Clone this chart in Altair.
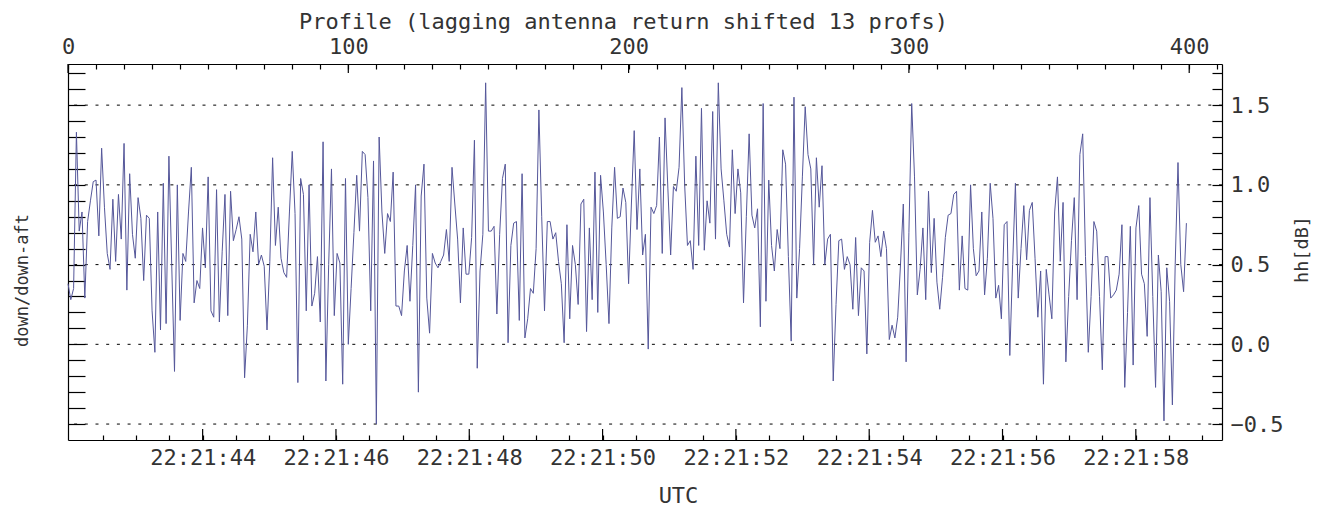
import altair as alt
import pandas as pd

# hh [dB] per profile (profile index 0..399)
hh_db = [
    0.38, 0.28, 0.35, 1.33, 0.71, 0.83, 0.29, 0.77, 0.90, 1.02,
    1.03, 0.68, 1.23, 0.86, 0.57, 0.47, 0.91, 0.52, 0.94, 0.66,
    1.26, 0.34, 1.07, 0.69, 0.54, 0.92, 0.79, 0.40, 0.81, 0.79,
    0.21, -0.05, 0.83, 0.09, 1.01, 0.13, 1.18, 0.50, -0.17, 1.00,
    0.15, 0.57, 0.52, 0.83, 1.11, 0.26, 0.40, 0.35, 0.73, 0.48,
    1.05, 0.21, 0.17, 0.97, 0.14, 0.58, 0.94, 0.18, 0.96, 0.65,
    0.72, 0.80, 0.66, -0.21, 0.12, 0.69, 0.58, 0.83, 0.50, 0.56,
    0.49, 0.09, 0.52, 1.17, 0.62, 0.86, 0.54, 0.45, 0.42, 0.83,
    1.21, 0.82, -0.24, 1.04, 0.94, 0.21, 1.00, 0.24, 0.32, 0.55,
    0.14, 1.27, -0.23, 0.50, 1.10, 0.18, 0.57, 0.51, -0.25, 1.04,
    0.00, 0.35, 0.70, 1.06, 0.71, 1.21, 1.19, 0.92, 0.21, 1.15,
    -0.50, 1.30, 0.83, 0.57, 0.82, 0.77, 1.08, 0.24, 0.24, 0.18,
    0.46, 0.62, 0.27, 0.62, 1.00, -0.30, 0.93, 1.13, 0.29, 0.07,
    0.57, 0.51, 0.48, 0.52, 0.56, 0.72, 0.52, 1.11, 0.88, 0.66,
    0.26, 0.73, 0.44, 0.44, 0.67, 1.28, -0.15, 0.46, 0.69, 1.64,
    0.71, 0.71, 0.74, 0.19, 0.69, 1.04, 1.13, 0.01, 0.62, 0.76,
    0.77, 0.15, 1.07, 0.04, 0.16, 0.35, 0.32, 0.60, 1.47, 0.80,
    0.21, 0.77, 0.77, 0.66, 0.70, 0.52, 0.38, 0.01, 0.75, 0.16,
    0.62, 0.50, 0.25, 0.88, 0.91, 0.08, 0.73, 0.28, 1.08, 0.20,
    1.06, 0.83, 0.50, 0.13, 0.73, 1.11, 0.79, 0.80, 0.98, 0.89,
    0.38, 0.88, 1.34, 0.72, 1.10, 0.56, 0.69, -0.03, 0.86, 0.82,
    0.87, 1.30, 0.57, 1.42, 0.98, 0.56, 0.99, 0.96, 1.11, 1.61,
    1.00, 0.62, 0.65, 0.47, 1.18, 0.62, 1.48, 0.59, 0.90, 0.76,
    1.46, 0.66, 1.64, 1.10, 0.90, 0.69, 0.61, 1.22, 0.82, 1.10,
    0.95, 0.26, 0.80, 1.32, 0.81, 0.73, 0.85, 0.11, 1.51, 0.27,
    1.03, 0.62, 0.46, 0.72, 0.60, 1.22, 1.13, 0.55, 0.02, 1.55,
    0.29, 0.60, 1.05, 1.49, 1.19, 1.10, 0.50, 1.17, 0.86, 1.12,
    0.50, 0.66, 0.69, -0.23, 0.25, 0.65, 0.66, 0.47, 0.55, 0.50,
    0.22, 0.67, 0.18, 0.48, 0.46, -0.06, 0.64, 0.84, 0.64, 0.68,
    0.55, 0.71, 0.60, 0.03, 0.12, 0.04, 0.17, 0.50, 0.88, -0.11,
    0.70, 1.51, 1.05, 0.31, 0.47, 0.73, 0.28, 0.96, 0.45, 0.79,
    0.39, 0.22, 0.42, 0.67, 0.81, 0.82, 0.94, 0.96, 0.34, 0.68,
    0.35, 0.34, 1.00, 0.60, 0.43, 0.46, 0.83, 0.31, 0.54, 1.01,
    0.79, 0.29, 0.37, 0.16, 0.75, 0.77, -0.07, 0.50, 1.01, 0.29,
    0.60, 0.87, 0.53, 0.84, 0.89, 0.54, 0.17, 0.46, -0.25, 0.47,
    0.31, 0.16, 0.83, 1.05, 0.52, 0.89, -0.11, 0.30, 0.65, 0.92,
    0.28, 1.19, 1.32, 0.55, -0.05, 0.30, 0.77, 0.71, 0.30, -0.16,
    0.55, 0.55, 0.29, 0.31, 0.34, 0.44, 0.75, -0.27, 0.20, 0.74,
    -0.13, 0.73, 0.87, 0.44, 0.38, 0.05, 0.92, 0.30, -0.27, 0.56,
    0.33, -0.48, 0.48, 0.27, -0.38, 0.50, 1.14, 0.50, 0.33, 0.76,
]

# time reference: seconds after 22:21:00 of profile 0, and profile rate
T0_SEC = 41.98
PROFILES_PER_SEC = 23.78

PROFILE_DOMAIN = [0, 411.7]
Y_DOMAIN = [-0.6, 1.758]
grid_levels = [-0.5, 0.0, 0.5, 1.0, 1.5]
profile_ticks = list(range(0, 411, 10))
profile_major = [0, 100, 200, 300, 400]
utc_ticks = [42.5 + 0.5 * i for i in range(34)]
utc_major = [44, 46, 48, 50, 52, 54, 56, 58]
db_ticks = [round(-0.5 + 0.1 * i, 1) for i in range(23)]

df = pd.DataFrame({"profile": list(range(len(hh_db))), "hh": hh_db})
df["sec"] = T0_SEC + df["profile"] / PROFILES_PER_SEC
grid_df = pd.DataFrame({"level": grid_levels})
pmaj_df = pd.DataFrame({"profile": profile_major})
umaj_df = pd.DataFrame({"sec": utc_major})

SEC_DOMAIN = [T0_SEC + PROFILE_DOMAIN[0] / PROFILES_PER_SEC,
              T0_SEC + PROFILE_DOMAIN[1] / PROFILES_PER_SEC]

FONT = "DejaVu Sans Mono"
TXT = "#333333"


def yscale():
    return alt.Scale(domain=Y_DOMAIN, nice=False, zero=False)


def pscale():
    return alt.Scale(domain=PROFILE_DOMAIN, nice=False, zero=False)


def sscale():
    return alt.Scale(domain=SEC_DOMAIN, nice=False, zero=False)


grid = alt.Chart(grid_df).mark_rule(
    color="#000000", strokeWidth=1, strokeDash=[3, 7.7]
).encode(y=alt.Y("level:Q", scale=yscale(), axis=None))

# longer major ticks (inward) on top and bottom axes
top_major = alt.Chart(pmaj_df).mark_rule(color="#000000", strokeWidth=1.2).encode(
    x=alt.X("profile:Q", scale=pscale(), axis=None),
    y=alt.value(0),
    y2=alt.value(9),
)
bottom_major = alt.Chart(umaj_df).mark_rule(color="#000000", strokeWidth=1.2).encode(
    x=alt.X("sec:Q", scale=sscale(), axis=None),
    y=alt.value({"expr": "height"}),
    y2=alt.value({"expr": "height - 11"}),
)

line = alt.Chart(df).mark_line(color="#55579a", strokeWidth=1).encode(
    x=alt.X(
        "profile:Q",
        scale=pscale(),
        axis=alt.Axis(
            orient="top",
            values=profile_ticks,
            labelExpr="datum.value % 100 === 0 ? datum.label : ''",
            tickSize=alt.ExprRef(expr="-5"),
            labelPadding=11,
            labelFlush=False,
            labelOverlap=False,
            grid=False,
            title="Profile (lagging antenna return shifted 13 profs)",
            titlePadding=2,
            titleX=555,
        ),
    ),
    y=alt.Y(
        "hh:Q",
        scale=yscale(),
        axis=alt.Axis(
            orient="left",
            values=db_ticks,
            labels=False,
            tickSize=alt.ExprRef(expr="-17"),
            grid=False,
            title="down/down-aft",
            titlePadding=36,
            titleFontSize=17,
            titleY=216,
        ),
    ),
)

hidden = alt.Chart(df).mark_line(opacity=0).encode(
    x=alt.X(
        "sec:Q",
        scale=sscale(),
        axis=alt.Axis(
            orient="bottom",
            values=utc_ticks,
            labelExpr="datum.value % 2 === 0 ? '22:21:' + datum.value : ''",
            tickSize=alt.ExprRef(expr="-5"),
            labelPadding=12,
            labelFlush=False,
            labelOverlap=False,
            grid=False,
            title="UTC",
            titlePadding=17,
            titleFontSize=22,
            titleX=610,
        ),
    ),
    y=alt.Y(
        "hh:Q",
        scale=yscale(),
        axis=alt.Axis(
            orient="right",
            values=db_ticks,
            labelExpr="abs(datum.value * 2 - round(datum.value * 2)) < 0.001 ? format(datum.value, '.1f') : ''",
            tickSize=alt.ExprRef(expr="-10"),
            labelPadding=18,
            labelOverlap=False,
            labelFlush=False,
            grid=False,
            title="hh[dB]",
            titleAngle=270,
            titleBaseline="top",
            titlePadding=10,
            titleFontSize=18.5,
            titleY=185,
        ),
    ),
)

chart = (
    alt.layer(grid, top_major, bottom_major, line, hidden)
    .resolve_scale(x="independent", y="independent")
    .properties(
        width=1318,
        height=498,
        autosize=alt.AutoSizeParams(type="fit", contains="padding"),
        padding={"left": 5, "right": 14, "top": 2, "bottom": 0},
    )
    .configure_view(stroke=None)
    .configure_axis(
        domainColor="#000000",
        domainWidth=1.2,
        tickColor="#000000",
        tickWidth=1.2,
        labelFont=FONT,
        labelFontSize=22,
        labelColor=TXT,
        titleFont=FONT,
        titleFontSize=22,
        titleFontWeight="normal",
        titleColor=TXT,
    )
)

chart.save("out.html", embed_options={"renderer": "svg", "actions": False})
